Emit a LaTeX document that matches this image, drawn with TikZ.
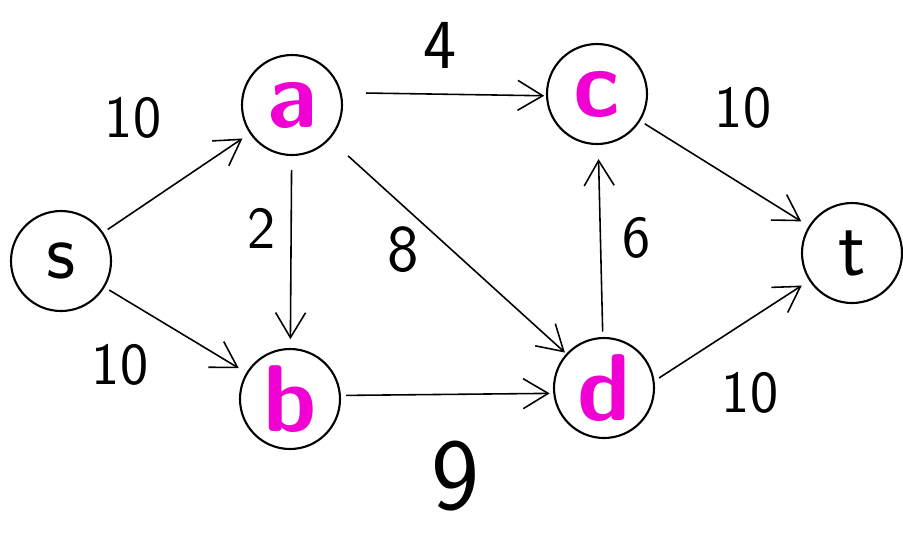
\documentclass[tikz,border=0pt]{standalone}
\usepackage{tikz}
\usetikzlibrary{arrows.meta}
\usepackage{xcolor}
\definecolor{hotpink}{RGB}{240,0,210}
\tikzset{
  >={Straight Barb[length=5mm,width=6mm]},
}

\begin{document}
\begin{tikzpicture}[x=0.2mm,y=-0.2mm,
  vtx/.style={draw, circle, line width=1.2pt, minimum size=2cm, inner sep=0pt, font=\fontsize{46}{50}\selectfont\sffamily},
  src/.style={vtx},
  mid/.style={vtx, text=hotpink, font=\fontsize{54}{58}\selectfont\sffamily\bfseries},
  arr/.style={->, line width=0.9pt, shorten <=3pt, shorten >=5pt},
  wt/.style={font=\fontsize{34}{38}\selectfont\sffamily}
]
  \useasboundingbox (0,0) rectangle (903,534);
  \node[src] (s) at (61,261) {s};
  \node[mid] (a) at (292,105) {a};
  \node[mid] (b) at (290,399) {b};
  \node[mid] (c) at (597,94) {c};
  \node[mid] (d) at (604,388) {d};
  \node[src] (t) at (852,253) {t};
  \draw[arr] (s) -- (a);
  \draw[arr] (s) -- (b);
  \draw[arr, shorten <=8pt] (a) -- (b);
  \draw[arr, shorten <=14pt, shorten >=1pt] (a.14) -- (c.182);
  \draw[arr, shorten <=14pt, shorten >=1pt] (a) -- (d);
  \draw[arr, shorten >=2pt] (b.4) -- (d.186);
  \draw[arr, shorten >=8pt] (d) -- (c);
  \draw[arr] (c) -- (t);
  \draw[arr] (d.8) -- (t);
  % weights
  \node[wt] (wsa) at (133,118) {10};
  \node[wt] (wsb) at (120,365) {10};
  \node[wt, font=\fontsize{40}{44}\selectfont\sffamily] (wac) at (440,45) {4};
  \node[wt] (wab) at (262,228) {2};
  \node[wt, font=\fontsize{38}{42}\selectfont\sffamily] (wad) at (403,250) {8};
  \node[wt] (wdc) at (637,238) {6};
  \node[wt, inner sep=0pt, font=\fontsize{58}{62}\selectfont\sffamily] (wbd) at (455,476) {9};
  \node[wt] (wct) at (743,108) {10};
  \node[wt] (wdt) at (750,393) {10};
\end{tikzpicture}
\end{document}
